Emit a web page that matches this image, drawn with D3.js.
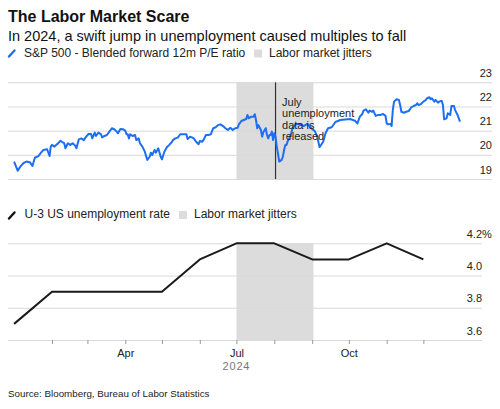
<!DOCTYPE html>
<html><head><meta charset="utf-8">
<script src="https://cdn.jsdelivr.net/npm/d3@7"></script>
<style>
body{margin:0;background:#fff;}
svg{display:block;font-family:"Liberation Sans",Arial,Helvetica,sans-serif;}
</style></head>
<body><svg id="chart" width="500" height="409"></svg>
<script>
// ---------- data ----------
const peDates = ["2024-01-01","2024-01-04","2024-01-06","2024-01-09","2024-01-11","2024-01-14","2024-01-16","2024-01-18","2024-01-21","2024-01-23","2024-01-25","2024-01-28","2024-01-30","2024-01-31","2024-02-01","2024-02-03","2024-02-06","2024-02-08","2024-02-09","2024-02-11","2024-02-12","2024-02-14","2024-02-16","2024-02-18","2024-02-20","2024-02-21","2024-02-23","2024-02-25","2024-02-27","2024-02-29","2024-03-02","2024-03-04","2024-03-05","2024-03-07","2024-03-08","2024-03-10","2024-03-12","2024-03-13","2024-03-15","2024-03-17","2024-03-19","2024-03-21","2024-03-23","2024-03-25","2024-03-26","2024-03-28","2024-03-30","2024-04-01","2024-04-02","2024-04-03","2024-04-04","2024-04-05","2024-04-07","2024-04-09","2024-04-10","2024-04-12","2024-04-13","2024-04-15","2024-04-17","2024-04-19","2024-04-21","2024-04-22","2024-04-23","2024-04-25","2024-04-26","2024-04-28","2024-04-30","2024-05-01","2024-05-03","2024-05-05","2024-05-07","2024-05-09","2024-05-10","2024-05-12","2024-05-14","2024-05-16","2024-05-18","2024-05-21","2024-05-22","2024-05-24","2024-05-26","2024-05-27","2024-05-29","2024-05-31","2024-06-01","2024-06-03","2024-06-04","2024-06-06","2024-06-08","2024-06-10","2024-06-12","2024-06-14","2024-06-16","2024-06-18","2024-06-20","2024-06-22","2024-06-24","2024-06-26","2024-06-28","2024-06-30","2024-07-02","2024-07-03","2024-07-05","2024-07-07","2024-07-09","2024-07-10","2024-07-11","2024-07-13","2024-07-15","2024-07-16","2024-07-17","2024-07-18","2024-07-19","2024-07-21","2024-07-22","2024-07-23","2024-07-25","2024-07-26","2024-07-27","2024-07-28","2024-07-29","2024-07-30","2024-07-31","2024-08-01","2024-08-02","2024-08-03","2024-08-04","2024-08-05","2024-08-07","2024-08-08","2024-08-09","2024-08-10","2024-08-11","2024-08-12","2024-08-14","2024-08-16","2024-08-19","2024-08-22","2024-08-25","2024-08-28","2024-08-31","2024-09-03","2024-09-05","2024-09-07","2024-09-10","2024-09-12","2024-09-14","2024-09-17","2024-09-20","2024-09-24","2024-09-28","2024-10-02","2024-10-06","2024-10-08","2024-10-10","2024-10-12","2024-10-13","2024-10-15","2024-10-17","2024-10-18","2024-10-20","2024-10-21","2024-10-23","2024-10-25","2024-10-27","2024-10-29","2024-10-31","2024-11-01","2024-11-02","2024-11-04","2024-11-05","2024-11-06","2024-11-07","2024-11-09","2024-11-11","2024-11-12","2024-11-13","2024-11-15","2024-11-17","2024-11-19","2024-11-21","2024-11-23","2024-11-25","2024-11-26","2024-11-27","2024-11-29","2024-12-01","2024-12-03","2024-12-04","2024-12-06","2024-12-07","2024-12-08","2024-12-10","2024-12-11","2024-12-13","2024-12-14","2024-12-16","2024-12-17","2024-12-18","2024-12-20","2024-12-21","2024-12-23","2024-12-24","2024-12-26","2024-12-27","2024-12-29","2024-12-31"];
const peValues = [19.72,19.34,19.51,19.67,19.72,19.69,19.54,19.88,19.95,20.09,20.20,20.23,19.95,20.34,20.41,20.34,20.48,20.58,20.54,20.48,20.27,20.48,20.41,20.48,20.38,20.27,20.64,20.68,20.61,20.75,20.86,20.86,20.68,20.92,20.78,20.92,20.86,20.72,20.78,20.82,20.96,21.10,21.06,20.96,20.89,21.07,21.06,21.00,20.85,20.85,20.68,20.85,20.78,20.82,20.61,20.68,20.48,20.34,20.13,19.79,19.92,20.09,19.99,20.20,20.09,20.27,19.92,19.81,20.13,20.31,20.41,20.52,20.61,20.68,20.71,20.85,20.85,20.85,20.65,20.75,20.71,20.68,20.54,20.44,20.57,20.54,20.61,20.82,20.82,20.85,21.10,21.14,21.23,21.26,21.19,21.10,21.03,21.12,21.03,21.10,21.12,21.26,21.40,21.44,21.48,21.65,21.51,21.58,21.58,21.68,21.44,21.10,21.23,21.03,20.75,20.93,21.10,20.82,20.68,20.82,20.82,20.96,20.61,20.89,20.75,20.34,20.06,19.72,19.79,19.92,20.20,20.41,20.41,20.57,20.75,21.11,21.28,21.28,21.19,21.28,21.11,20.99,20.78,20.32,20.54,20.90,21.10,21.14,21.36,21.44,21.46,21.48,21.41,21.30,21.58,21.69,21.83,21.88,21.74,21.83,21.78,21.83,21.61,21.65,21.65,21.69,21.61,21.30,21.26,21.28,21.19,21.85,22.20,22.30,22.27,22.06,21.78,21.74,21.78,21.81,21.96,22.02,22.06,22.13,22.06,22.10,22.20,22.27,22.34,22.38,22.30,22.34,22.20,22.27,22.16,22.20,22.24,22.06,21.47,21.51,21.72,21.65,22.02,22.02,21.85,21.65,21.37];

const unempDates = ["2024-01-01","2024-02-01","2024-03-01","2024-04-01","2024-05-01","2024-06-01","2024-07-01","2024-08-01","2024-09-01","2024-10-01","2024-11-01","2024-12-01"];
const unempValues = [3.7,3.9,3.9,3.9,3.9,4.1,4.2,4.2,4.1,4.1,4.2,4.1];

const jitterStart = "2024-07-01";
const jitterEnd = "2024-09-02";
const releaseDate = "2024-08-02";
const releaseNote = ["July","unemployment","data is","released"];

const peTicks = [19,20,21,22,23];
const unempTicks = [3.6,3.8,4.0,4.2];
const monthTicks = ["2024-02-01","2024-03-01","2024-04-01","2024-05-01","2024-06-01","2024-07-01","2024-08-01","2024-09-01","2024-10-01","2024-11-01","2024-12-01"];
const monthLabels = {"2024-04-01":"Apr","2024-07-01":"Jul","2024-10-01":"Oct"};
const yearLabel = "2024";

// ---------- setup ----------
const parse = d3.timeParse("%Y-%m-%d");
const fmt = d3.timeFormat("%Y-%m-%d");
const svg = d3.select("#chart");
const BLUE = "#1d6ff2", SHADE = "#dcdcdc", GRID = "#d9d9d9", TXT = "#222";
const FONT = "Liberation Sans, Arial, sans-serif";

const x = d3.scaleTime()
  .domain([new Date(2023,11,27), new Date(2025,0,18)])
  .range([8, 482]);
const yTop = d3.scaleLinear().domain([19,23]).range([179,82.3]);
const yBot = d3.scaleLinear().domain([3.6,4.2]).range([340,243.3]);

// ---------- titles ----------
svg.append("text").attr("x",8).attr("y",22).attr("font-size",16).attr("font-weight","bold").attr("fill","#111").text("The Labor Market Scare");
svg.append("text").attr("x",8).attr("y",41).attr("font-size",14.5).attr("fill","#111").text("In 2024, a swift jump in unemployment caused multiples to fall");

// legend 1
svg.append("line").attr("x1",9).attr("y1",56.5).attr("x2",14.5).attr("y2",50.5).attr("stroke",BLUE).attr("stroke-width",2.4).attr("stroke-linecap","round");
svg.append("text").attr("x",24).attr("y",56.5).attr("font-size",12).attr("fill",TXT).text("S&P 500 - Blended forward 12m P/E ratio");
svg.append("rect").attr("x",254).attr("y",49.5).attr("width",8).attr("height",8).attr("fill",SHADE);
svg.append("text").attr("x",269).attr("y",56.5).attr("font-size",12).attr("fill",TXT).text("Labor market jitters");

// ---------- top panel ----------
const topG = svg.append("g");
topG.append("rect")
  .attr("x",x(parse(jitterStart))).attr("width",x(parse(jitterEnd))-x(parse(jitterStart)))
  .attr("y",yTop(23)).attr("height",yTop(19)-yTop(23)).attr("fill",SHADE);

const axTop = topG.append("g").attr("transform","translate(492,0)")
  .call(d3.axisRight(yTop).tickValues(peTicks).tickSize(-484).tickFormat(d3.format("d")));
axTop.select(".domain").remove();
axTop.selectAll(".tick line").attr("stroke",GRID);
axTop.selectAll(".tick text").attr("x",0).attr("dy",null).attr("y",-6)
  .attr("text-anchor","end").attr("font-size",11).attr("fill",TXT).attr("font-family",FONT);

topG.append("line")
  .attr("x1",x(parse(releaseDate))).attr("x2",x(parse(releaseDate)))
  .attr("y1",yTop(23)).attr("y2",yTop(19)).attr("stroke","#333").attr("stroke-width",1.2);

const peData = peDates.map((d,i)=>({date:parse(d), v:peValues[i]}));
topG.append("path").datum(peData)
  .attr("fill","none").attr("stroke",BLUE).attr("stroke-width",2).attr("stroke-linejoin","round")
  .attr("d", d3.line().x(d=>x(d.date)).y(d=>yTop(d.v)));

const note = topG.append("text").attr("x",x(parse(releaseDate))+6.5).attr("y",106).attr("font-size",11).attr("fill",TXT);
releaseNote.forEach((t,i)=> note.append("tspan").attr("x",x(parse(releaseDate))+6.5).attr("dy", i===0?0:11.4).text(t));

// legend 2
svg.append("line").attr("x1",9).attr("y1",218.5).attr("x2",14.5).attr("y2",212.5).attr("stroke","#111").attr("stroke-width",2.4).attr("stroke-linecap","round");
svg.append("text").attr("x",24.5).attr("y",217.5).attr("font-size",12).attr("fill",TXT).text("U-3 US unemployment rate");
svg.append("rect").attr("x",179).attr("y",211).attr("width",8).attr("height",8).attr("fill",SHADE);
svg.append("text").attr("x",194).attr("y",217.5).attr("font-size",12).attr("fill",TXT).text("Labor market jitters");

// ---------- bottom panel ----------
const botG = svg.append("g");
botG.append("rect")
  .attr("x",x(parse(jitterStart))).attr("width",x(parse(jitterEnd))-x(parse(jitterStart)))
  .attr("y",yBot(4.2)).attr("height",yBot(3.6)-yBot(4.2)).attr("fill",SHADE);

const axBot = botG.append("g").attr("transform","translate(482,0)")
  .call(d3.axisRight(yBot).tickValues(unempTicks).tickSize(-474).tickFormat(d3.format(".1f")));
axBot.select(".domain").remove();
axBot.selectAll(".tick line").attr("stroke",GRID);
axBot.selectAll(".tick text").attr("x",0).attr("dy",null).attr("y",-6)
  .attr("text-anchor","end").attr("font-size",11).attr("fill",TXT).attr("font-family",FONT);
axBot.selectAll(".tick").filter(d=>d===4.2).append("text")
  .attr("x",0).attr("y",-6).attr("text-anchor","start").attr("font-size",11).attr("fill",TXT)
  .attr("font-family",FONT).text("%");

const axX = botG.append("g").attr("transform",`translate(0,${yBot(3.6)})`)
  .call(d3.axisBottom(x).tickValues(monthTicks.map(parse)).tickSize(4).tickPadding(5)
    .tickFormat(d=>monthLabels[fmt(d)]||""));
axX.select(".domain").remove();
axX.selectAll(".tick line").attr("stroke","#999");
axX.selectAll(".tick text").attr("font-size",11).attr("fill",TXT).attr("font-family",FONT);
botG.append("text").attr("x",x(parse("2024-07-01"))).attr("y",370).attr("text-anchor","middle")
  .attr("font-size",11).attr("letter-spacing",0.8).attr("fill","#777").text(yearLabel);

const uData = unempDates.map((d,i)=>({date:parse(d), v:unempValues[i]}));
botG.append("path").datum(uData)
  .attr("fill","none").attr("stroke","#1a1a1a").attr("stroke-width",2).attr("stroke-linejoin","round")
  .attr("d", d3.line().x(d=>x(d.date)).y(d=>yBot(d.v)));

// source
svg.append("text").attr("x",8).attr("y",396.5).attr("font-size",9.8).attr("fill",TXT)
  .text("Source: Bloomberg, Bureau of Labor Statistics");
</script></body></html>
